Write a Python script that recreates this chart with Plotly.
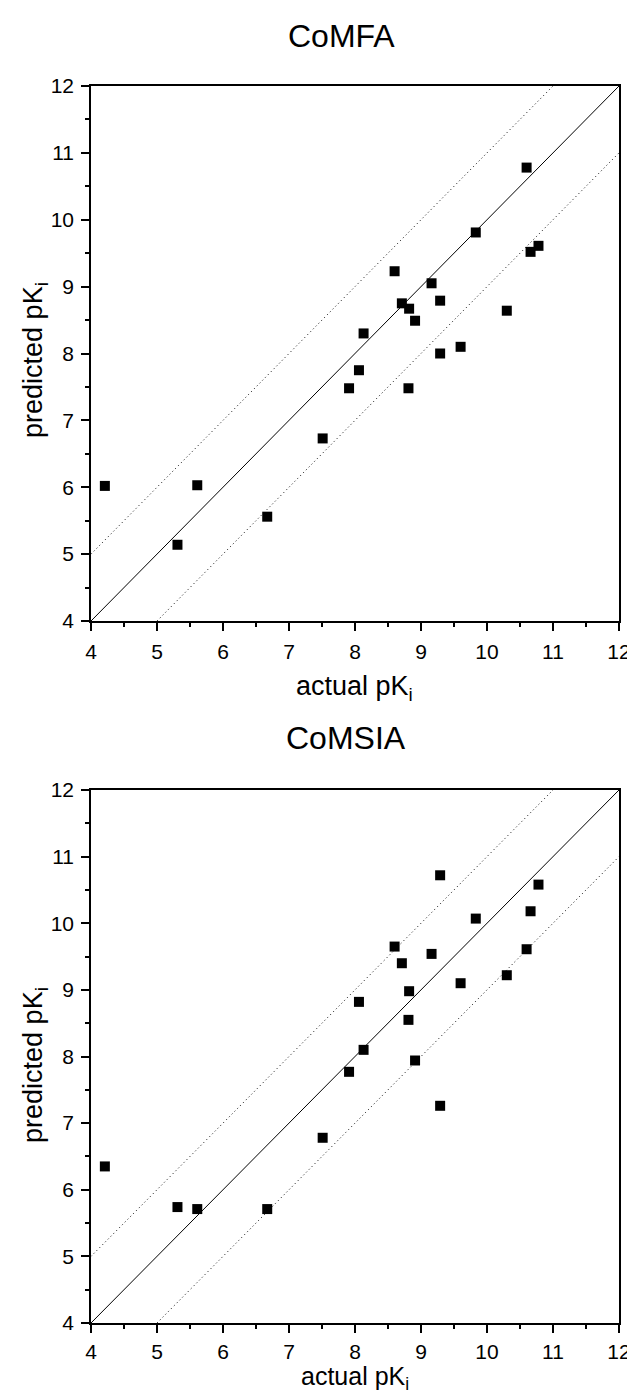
import plotly.graph_objects as go
from plotly.subplots import make_subplots

# ---- data ----
actual_pki = [10.60, 9.83, 10.78, 10.66, 8.60, 9.16, 9.29, 8.71, 8.82, 10.30, 8.91,
              8.13, 9.60, 9.29, 8.06, 7.91, 8.81, 7.51, 4.21, 5.61, 5.31, 6.67]
comfa_pred = [10.78, 9.81, 9.61, 9.52, 9.23, 9.05, 8.79, 8.75, 8.67, 8.64, 8.49,
              8.30, 8.10, 8.00, 7.75, 7.48, 7.48, 6.73, 6.02, 6.03, 5.14, 5.56]
comsia_pred = [9.61, 10.07, 10.58, 10.18, 9.65, 9.54, 10.72, 9.40, 8.98, 9.22, 7.94,
               8.10, 9.10, 7.26, 8.82, 7.77, 8.55, 6.78, 6.35, 5.71, 5.74, 5.71]
panel_titles = ["CoMFA", "CoMSIA"]
axis_min, axis_max = 4, 12
band = 1.0
tick_vals = list(range(4, 13))

W, H = 635, 1395
L, R, T, B = 83, 15, 78, 80
PH = H - T - B
FONT = "Liberation Sans, Arial, sans-serif"


def py(px):
    return (H - B - px) / PH


def pxr(px):
    return (px - L) / (W - L - R)


fig = make_subplots(rows=2, cols=1)

for i, pred in enumerate([comfa_pred, comsia_pred]):
    row = i + 1
    fig.add_trace(go.Scatter(x=[axis_min, axis_max], y=[axis_min, axis_max], mode="lines",
                             line=dict(color="black", width=1), showlegend=False,
                             hoverinfo="skip"), row=row, col=1)
    fig.add_trace(go.Scatter(x=[axis_min, axis_max - band], y=[axis_min + band, axis_max],
                             mode="lines", line=dict(color="black", width=1, dash="1px,3px"),
                             showlegend=False, hoverinfo="skip"), row=row, col=1)
    fig.add_trace(go.Scatter(x=[axis_min + band, axis_max], y=[axis_min, axis_max - band],
                             mode="lines", line=dict(color="black", width=1, dash="1px,3px"),
                             showlegend=False, hoverinfo="skip"), row=row, col=1)
    fig.add_trace(go.Scatter(x=actual_pki, y=pred, mode="markers",
                             marker=dict(symbol="square", size=10, color="black"),
                             showlegend=False), row=row, col=1)

axis_style = dict(range=[axis_min, axis_max], tickvals=tick_vals, showgrid=False,
                  zeroline=False, showline=True, linecolor="black", linewidth=1.5,
                  mirror=True, ticks="outside", ticklen=8, tickwidth=1.5, tickcolor="black",
                  ticklabelstandoff=3,
                  minor=dict(ticks="outside", dtick=0.5, ticklen=4, tickwidth=1.5,
                             tickcolor="black", showgrid=False),
                  tickfont=dict(family=FONT, size=21, color="black"))

fig.update_xaxes(**axis_style)
fig.update_yaxes(**axis_style)

fig.update_layout(
    width=W, height=H,
    margin=dict(l=L, r=R, t=T, b=B),
    plot_bgcolor="white", paper_bgcolor="white",
    xaxis=dict(domain=[0, 1]),
    xaxis2=dict(domain=[0, 1], ticklabelstandoff=1),
    yaxis=dict(domain=[py(613), 1]),
    yaxis2=dict(domain=[0, py(782)]),
)

ann = []
title_y = [28, 730]
title_x = [338, 342]
xt_y = [680, 1370]
xt_size = [27, 25]
yt_y = [352, 1057]
for i in range(2):
    ann.append(dict(text=panel_titles[i], x=pxr(title_x[i]), y=py(title_y[i]), xref="paper",
                    yref="paper", xanchor="center", yanchor="middle", showarrow=False,
                    font=dict(family=FONT, size=32, color="black")))
    ann.append(dict(text="actual pK<sub>i</sub>", x=pxr(351), y=py(xt_y[i]), xref="paper",
                    yref="paper", xanchor="center", yanchor="middle", showarrow=False,
                    font=dict(family=FONT, size=xt_size[i], color="black")))
    ann.append(dict(text="predicted pK<sub>i</sub>", x=pxr(26), y=py(yt_y[i]), xref="paper",
                    yref="paper", xanchor="center", yanchor="middle", showarrow=False,
                    textangle=-90, font=dict(family=FONT, size=27, color="black")))
fig.update_layout(annotations=ann)

fig.write_html("out.html")
